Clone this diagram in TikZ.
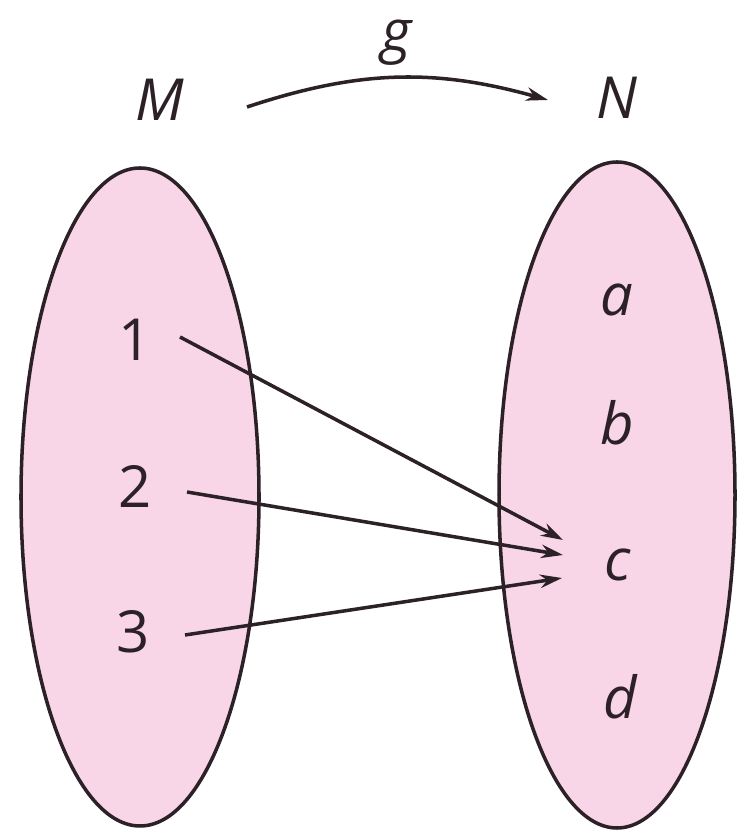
\documentclass[tikz,border=0pt]{standalone}
\usepackage{fontspec}
\setmainfont{Open Sans}
\usetikzlibrary{arrows.meta}
\definecolor{setfill}{RGB}{248,214,232}
\definecolor{ink}{RGB}{45,33,40}
\begin{document}
\begin{tikzpicture}[>={Stealth[length=0.44cm,width=0.27cm]},setoval/.style={draw=ink,line width=2pt,fill=setfill},map/.style={->,draw=ink,fill=ink,line width=2pt},elem/.style={text=ink,font=\fontsize{33}{40}\selectfont},var/.style={text=ink,font=\fontsize{33}{40}\selectfont\itshape}]
\useasboundingbox (0,0) rectangle (14.74,16.6);
\draw[setoval] (2.80,6.66) ellipse [x radius=2.38,y radius=6.58]; \draw[setoval] (12.34,6.70) ellipse [x radius=2.36,y radius=6.66];
\node[var] (M) at (3.20,14.60) {M}; \node[var] (N) at (12.34,14.64) {N}; \node[var] (g) at (7.94,15.74) {g};
\node[elem] (m1) at (2.70,9.80) {1}; \node[elem] (m2) at (2.70,6.86) {2}; \node[elem] (m3) at (2.66,3.96) {3};
\node[var] (na) at (12.34,10.60) {a}; \node[var] (nb) at (12.34,8.14) {b}; \node[var] (nc) at (12.36,5.30) {c}; \node[var] (nd) at (12.40,2.66) {d};
\draw[map,fill=none] ([shift={(1.74,-0.14)}]M.center) to[bend left=17] ([shift={(-1.38,-0.04)}]N.center);
\draw[map] ([shift={(0.90,0.06)}]m1.center) -- ([shift={(-1.10,0.50)}]nc.center);
\draw[map] ([shift={(1.04,-0.10)}]m2.center) -- ([shift={(-1.10,0.20)}]nc.center);
\draw[map] ([shift={(1.04,-0.06)}]m3.center) -- ([shift={(-1.12,-0.26)}]nc.center);
\end{tikzpicture}
\end{document}
